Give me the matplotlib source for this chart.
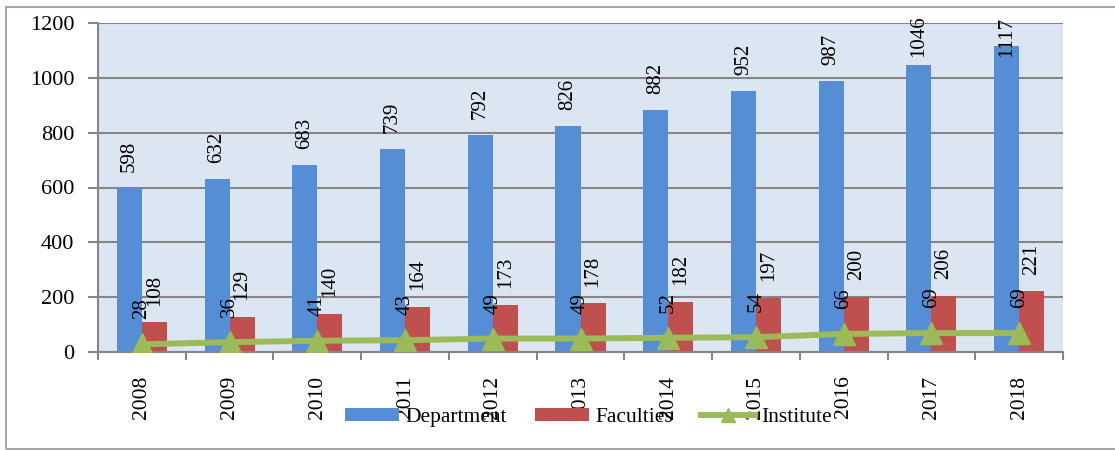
import matplotlib.pyplot as plt
import numpy as np
from matplotlib.patches import Rectangle

# valores
anos = ['2008', '2009', '2010', '2011', '2012', '2013', '2014', '2015', '2016', '2017', '2018']
department = [598, 632, 683, 739, 792, 826, 882, 952, 987, 1046, 1117]
faculties = [108, 129, 140, 164, 173, 178, 182, 197, 200, 206, 221]
institute = [28, 36, 41, 43, 49, 49, 52, 54, 66, 69, 69]

plt.rcParams['font.family'] = ['Liberation Serif', 'DejaVu Serif']

azul = '#558ED5'
vermelho = '#C0504D'
verde = '#9BBB59'
cinza = '#868686'

fig = plt.figure(figsize=(11.15, 4.5), dpi=100)
fig.patches.append(Rectangle((6 / 1115, 0.003), 1.2, 442 / 450, transform=fig.transFigure,
                             fill=False, edgecolor='#A6A6A6', linewidth=1.5))
ax = fig.add_axes([98 / 1115, 98 / 450, 965 / 1115, 329 / 450])
ax.set_facecolor('#DCE6F2')

x = np.arange(len(anos))
w = 0.285
b1 = ax.bar(x - w / 2, department, w, color=azul, label='Department', zorder=2)
b2 = ax.bar(x + w / 2, faculties, w, color=vermelho, label='Faculties', zorder=2)
ln, = ax.plot(x, institute, color=verde, linewidth=4.3, marker='^', markersize=16,
              label='Institute', zorder=3)

# rotulos: como no Excel, os do topo ficam presos dentro da area do grafico
topo = 1076
for xi, v in zip(x, department):
    ax.annotate(str(v), (xi - w / 2, min(v + 58, topo)), rotation=90,
                ha='center', va='bottom', fontsize=15, annotation_clip=False)
for xi, v in zip(x, faculties):
    ax.annotate(str(v), (xi + w / 2, v), xytext=(0, 12), textcoords='offset points',
                rotation=90, ha='center', va='bottom', fontsize=15)
for xi, v in zip(x, institute):
    ax.annotate(str(v), (xi, v), xytext=(0, 18), textcoords='offset points',
                rotation=90, ha='center', va='bottom', fontsize=15, zorder=4)

ax.set_xlim(-0.5, len(anos) - 0.5)
ax.set_ylim(0, 1200)
ax.set_yticks(range(0, 1201, 200))
ax.yaxis.grid(True, color=cinza, linewidth=1.5, zorder=1)
ax.set_axisbelow(True)

ax.set_xticks(x)
ax.set_xticklabels(anos, rotation=90, fontsize=15.5)
ax.set_xticks(np.arange(-0.5, len(anos), 1), minor=True)
ax.tick_params(axis='x', which='major', length=0, pad=17)
ax.tick_params(axis='x', which='minor', length=6, width=1.5, color=cinza)
ax.tick_params(axis='y', length=7, width=1.5, color=cinza, labelsize=16, pad=10)

for s in ['top', 'right']:
    ax.spines[s].set_visible(False)
for s in ['left', 'bottom']:
    ax.spines[s].set_color(cinza)
    ax.spines[s].set_linewidth(1.5)

fig.legend(handles=[b1, b2, ln], loc='center', bbox_to_anchor=(0.528, 0.072), ncol=3,
           frameon=False, fontsize=15.5, handlelength=2.5, handleheight=0.5,
           columnspacing=1.3, handletextpad=0.3, markerscale=0.65)

fig.savefig('out.png', dpi=100)
